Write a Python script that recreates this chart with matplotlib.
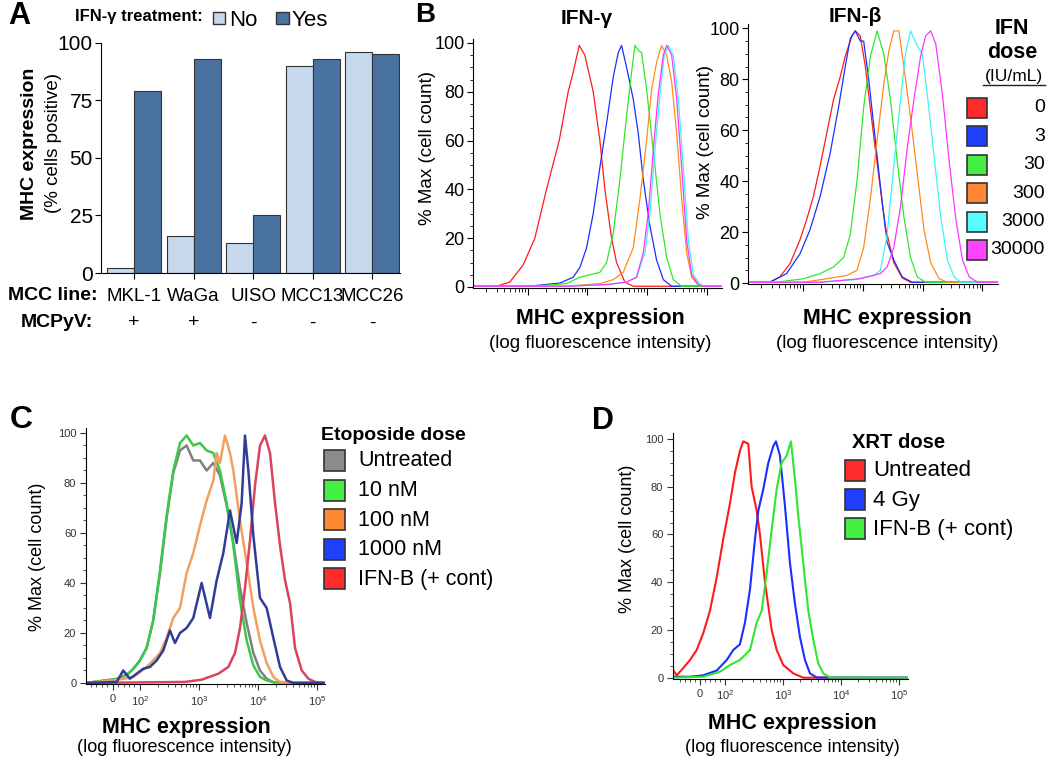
import numpy as np
import matplotlib
matplotlib.use("Agg")
import matplotlib.pyplot as plt
from matplotlib.patches import Rectangle
from matplotlib.lines import Line2D
from matplotlib.ticker import MultipleLocator, NullFormatter, FixedLocator

plt.rcParams['font.family'] = ['Liberation Sans', 'DejaVu Sans']
plt.rcParams['mathtext.fontset'] = 'custom'
plt.rcParams['mathtext.rm'] = 'Liberation Sans'

W, H = 1050, 763

# ---------------- Panel A: % MHC positive cells
mcc_lines = ["MKL-1", "WaGa", "UISO", "MCC13", "MCC26"]
mcpyv = ["+", "+", "-", "-", "-"]
mhc_no = [2, 16, 13, 90, 96]
mhc_yes = [79, 93, 25, 93, 95]

# ---------------- Panel B: histograms, x = log10 fluorescence, y = % max
ifn_doses = ["0", "3", "30", "300", "3000", "30000"]
ifn_line_colors = ["#ff1a1a", "#1a2eff", "#2ee82e", "#ff8c1a", "#3cf5f5", "#ff33ff"]
ifn_box_colors = ["#ff2a2a", "#1f3fff", "#44ee44", "#ff8833", "#55ffff", "#ff44ff"]

ifng_x = {
    "0": [0.10, 0.473, 0.697, 0.922, 1.118, 1.314, 1.527, 1.678, 1.762, 1.863, 1.958, 2.098,
          2.210, 2.294, 2.406, 2.490, 2.630, 2.770, 4.25],
    "3": [0.10, 1.090, 1.538, 1.762, 1.874, 1.986, 2.098, 2.210, 2.322, 2.434, 2.518, 2.574,
          2.658, 2.770, 2.854, 2.938, 3.050, 3.162, 3.275, 3.415, 4.25],
    "30": [0.10, 1.090, 1.650, 1.874, 2.042, 2.210, 2.322, 2.434, 2.546, 2.658, 2.742, 2.798,
           2.854, 2.910, 2.994, 3.106, 3.218, 3.331, 3.443, 3.583, 4.25],
    "300": [0.10, 1.650, 2.210, 2.434, 2.602, 2.770, 2.882, 2.994, 3.078, 3.162, 3.246, 3.331,
            3.415, 3.499, 3.583, 3.667, 3.751, 3.863, 3.947, 4.25],
    "3000": [0.10, 1.650, 2.322, 2.658, 2.826, 2.966, 3.050, 3.134, 3.218, 3.291, 3.359, 3.443,
             3.527, 3.611, 3.695, 3.779, 3.891, 3.975, 4.25],
    "30000": [0.10, 1.650, 2.322, 2.658, 2.826, 2.938, 3.022, 3.106, 3.190, 3.275, 3.331, 3.415,
              3.499, 3.583, 3.667, 3.751, 3.863, 3.947, 4.25],
}
ifng_y = {
    "0": [0.3, 0.3, 2, 9, 20, 40, 60, 80, 88, 99, 95, 80, 60, 40, 20, 10, 2, 0.3, 0.3],
    "3": [0.3, 0.5, 1.6, 4, 8, 16, 30, 49, 67, 86, 96, 99, 90, 77, 63, 44, 25, 11, 3, 0.3, 0.3],
    "30": [0.3, 0.3, 1.4, 4, 5, 6, 10, 22, 44, 70, 88, 99, 97, 96, 81, 56, 30, 12, 3, 0.3, 0.3],
    "300": [0.3, 0.3, 1.4, 3, 6, 16, 36, 60, 81, 92, 99, 95, 84, 63, 36, 14, 4, 0.7, 0.3, 0.3],
    "3000": [0.3, 0.3, 1, 2, 4, 14, 30, 56, 79, 95, 99, 95, 77, 49, 19, 5, 1, 0.3, 0.3],
    "30000": [0.3, 0.3, 1, 2, 4, 14, 30, 56, 79, 95, 99, 95, 77, 49, 19, 5, 1, 0.3, 0.3],
}

ifnb_x = {
    "0": [0.10, 0.445, 0.613, 0.782, 0.950, 1.062, 1.174, 1.286, 1.398, 1.510, 1.622, 1.706,
          1.818, 1.874, 1.958, 2.042, 2.154, 2.266, 2.378, 2.518, 2.658, 2.798, 4.25],
    "3": [0.10, 0.445, 0.725, 0.950, 1.118, 1.286, 1.454, 1.594, 1.706, 1.790, 1.874, 1.958,
          2.014, 2.098, 2.210, 2.322, 2.406, 2.518, 2.658, 2.826, 4.25],
    "30": [0.10, 0.557, 1.006, 1.286, 1.510, 1.678, 1.790, 1.902, 2.014, 2.126, 2.238, 2.350,
           2.462, 2.574, 2.686, 2.798, 2.910, 3.050, 4.25],
    "300": [0.10, 1.006, 1.398, 1.734, 1.902, 2.014, 2.126, 2.238, 2.350, 2.434, 2.518, 2.602,
            2.686, 2.798, 2.910, 3.022, 3.134, 3.275, 3.415, 4.25],
    "3000": [0.10, 1.286, 1.846, 2.182, 2.294, 2.406, 2.518, 2.630, 2.714, 2.798, 2.910, 2.994,
             3.078, 3.190, 3.303, 3.415, 3.527, 3.639, 4.25],
    "30000": [0.10, 1.286, 1.958, 2.294, 2.406, 2.518, 2.630, 2.742, 2.854, 2.966, 3.050, 3.134,
              3.218, 3.331, 3.443, 3.555, 3.667, 3.779, 3.919, 4.25],
}
ifnb_y = {
    "0": [0.3, 0.4, 2.4, 7.6, 17, 25, 34, 46, 59, 72, 81, 89, 97, 99, 97, 85, 63, 42, 22, 8, 2,
          0.3, 0.3],
    "3": [0.3, 0.3, 3.7, 11.5, 21, 34, 51, 69, 85, 96, 99, 95, 95, 80, 56, 32, 16, 9, 2.4, 0.3, 0.3],
    "30": [0.3, 0.3, 1.7, 3.7, 6.3, 10, 19, 40, 69, 89, 99, 90, 72, 48, 26, 10, 2.4, 0.3, 0.3],
    "300": [0.3, 0.3, 1.7, 3, 5, 14, 33, 56, 78, 91, 99, 99, 85, 65, 43, 21, 8, 1.7, 0.3, 0.3],
    "3000": [0.3, 0.3, 1.3, 3, 5, 19, 46, 72, 90, 99, 93, 90, 74, 50, 26, 9, 2.4, 0.3, 0.3],
    "30000": [0.3, 0.3, 1.7, 3.7, 6.3, 14, 30, 53, 72, 89, 97, 99, 94, 74, 48, 25, 9, 2.4, 0.3, 0.3],
}

# ---------------- Panel C: etoposide, x = fluorescence intensity, y = % max
etop_labels = ["Untreated", "10 nM", "100 nM", "1000 nM", "IFN-B (+ cont)"]
etop_line_colors = ["#808080", "#3cc84a", "#f2a060", "#303c98", "#d8445e"]
etop_box_colors = ["#8c8c8c", "#44f044", "#ff8833", "#1f3fff", "#ff2a2a"]

etop_x = {
    "Untreated": [-95, 21, 57, 76, 100, 130, 168, 219, 284, 368, 478, 620, 804, 1044, 1355, 1758,
                  2281, 2960, 3843, 4986, 6470, 8395, 10890, 14130, 18350, 130000],
    "10 nM": [-95, 21, 57, 76, 100, 130, 168, 219, 284, 368, 478, 620, 804, 1044, 1355, 1758,
              2281, 2960, 3843, 4986, 6470, 8395, 10890, 14130, 18350, 130000],
    "100 nM": [-95, -28, 21, 76, 130, 168, 219, 284, 368, 478, 620, 804, 1044, 1355, 1758, 2003,
               2281, 2775, 3373, 3843, 4986, 6470, 8395, 10890, 14130, 18350, 23810, 130000],
    "1000 nM": [-95, 15, 39, 63, 88, 114, 148, 192, 249, 323, 393, 478, 620, 804, 1114, 1543, 2003,
                2600, 3373, 4376, 5320, 6060, 6910, 8400, 10890, 14130, 18350, 23810, 30900, 40100,
                130000],
    "IFN-B (+ cont)": [-95, 581, 1114, 2138, 3160, 4100, 4990, 6060, 7370, 8960, 10900, 13250,
                       16100, 19600, 23800, 29000, 35200, 42800, 55600, 72100, 93500, 130000],
}
etop_y = {
    "Untreated": [0, 1.7, 3.7, 5.7, 9, 14, 25, 44, 66, 84, 93, 95, 89, 89, 85, 88, 83, 71, 56, 38,
                  24, 12, 5, 1.7, 0.3, 0],
    "10 nM": [0, 1.7, 3.7, 5.7, 9, 14, 25, 45, 67, 85, 96, 99, 95, 96, 93, 92, 85, 72, 55, 33, 17,
              7, 2.4, 1, 0.3, 0],
    "100 nM": [0, 0.7, 1.3, 2.4, 6.4, 9, 12, 18, 26, 30, 44, 52, 63, 73, 81, 92, 88, 99, 92, 85,
               65, 48, 30, 17, 8, 2.4, 0.4, 0],
    "1000 nM": [0, 0.4, 5, 1.7, 3.7, 5.7, 6.4, 9, 13, 21, 16, 20, 22, 26, 40, 26, 41, 52, 69, 56,
                72, 99, 85, 59, 34, 30, 18, 6.4, 1, 0, 0],
    "IFN-B (+ cont)": [0, 0.4, 1.3, 3.7, 6.4, 12, 22, 38, 57, 79, 95, 99, 92, 72, 55, 41, 32, 14,
                       5, 1.7, 0.4, 0],
}

# ---------------- Panel D: radiation
xrt_labels = ["Untreated", "4 Gy", "IFN-B (+ cont)"]
xrt_line_colors = ["#ff1a1a", "#1a2eff", "#2ee82e"]
xrt_box_colors = ["#ff2a2a", "#1f3fff", "#44f044"]

xrt_x = {
    "Untreated": [-113, -93, -67, -40, -13, 13, 40, 67, 93, 122, 149, 181, 207, 252, 288, 352, 401,
                  489, 639, 779, 1012, 1509, 2239, 150000],
    "4 Gy": [-113, -40, 13, 67, 107, 139, 181, 221, 270, 329, 376, 458, 559, 681, 757, 887, 1082,
             1320, 1610, 1964, 2395, 2922, 3810, 150000],
    "IFN-B (+ cont)": [-113, 13, 80, 122, 181, 270, 352, 429, 524, 639, 779, 949, 1158, 1374, 1610,
                       1816, 2239, 2730, 3330, 4060, 4950, 6460, 150000],
}
xrt_y = {
    "Untreated": [4, 1, 4, 7.4, 11.6, 18.6, 28, 42, 58, 73, 86, 95, 99, 98, 80, 70, 60, 40, 20,
                  11.6, 5.3, 1.8, 0, 0],
    "4 Gy": [0.4, 0.4, 1, 3, 7.4, 11.6, 14, 23, 37, 58, 70, 79, 90, 97, 99, 93, 72, 48, 31, 17,
             7.4, 1.8, 0.1, 0],
    "IFN-B (+ cont)": [0, 0.4, 2.5, 5.3, 7.4, 11.6, 23, 28, 44, 62, 79, 90, 93, 99, 83, 69, 48, 28,
                       16, 6, 1.8, 0.1, 0],
}

fig = plt.figure(figsize=(W / 100, H / 100), dpi=100)


def box(l, t, r, b):
    # pixel box -> figure fraction
    return [l / W, 1 - b / H, (r - l) / W, (b - t) / H]


def label(x, y, s, **kw):
    kw.setdefault('ha', 'center')
    kw.setdefault('va', 'center')
    fig.text(x / W, 1 - y / H, s, **kw)


def swatch(l, t, r, b, color, lw=1.2):
    fig.add_artist(Rectangle((l / W, 1 - b / H), (r - l) / W, (b - t) / H,
                             transform=fig.transFigure, fc=color, ec='#333333', lw=lw))


def clean(ax):
    for s in ['top', 'right']:
        ax.spines[s].set_visible(False)


# ================= A
axA = fig.add_axes(box(101, 42.7, 400, 273))
xa = np.arange(len(mcc_lines))
bw = 0.454
axA.bar(xa - bw, mhc_no, bw, align='edge', color='#c6d8eb', edgecolor='#333333', lw=0.8)
axA.bar(xa, mhc_yes, bw, align='edge', color='#4a72a0', edgecolor='#333333', lw=0.8)
axA.set_xlim(-0.555, 4.47)
axA.set_ylim(0, 100)
axA.set_yticks([0, 25, 50, 75, 100])
axA.tick_params(axis='y', labelsize=15, length=4, pad=2)
axA.set_xticks(xa)
axA.set_xticklabels([])
axA.tick_params(axis='x', length=4)
clean(axA)
for i, (name, v) in enumerate(zip(mcc_lines, mcpyv)):
    axA.text(i, -0.104, name, transform=axA.get_xaxis_transform(), ha='center', va='center',
             fontsize=13.5)
    axA.text(i, -0.217, v, transform=axA.get_xaxis_transform(), ha='center', va='center',
             fontsize=14)
label(98, 296, 'MCC line:', ha='right', fontweight='bold', fontsize=14)
label(93, 323, 'MCPyV:', ha='right', fontweight='bold', fontsize=14)
label(30, 144, 'MHC expression', rotation=90, fontweight='bold', fontsize=14)
label(53, 143, '(% cells positive)', rotation=90, fontsize=13.5)
label(75, 17, 'IFN-γ treatment:', ha='left', fontweight='bold', fontsize=12)
swatch(213, 12, 225, 24, '#c6d8eb', lw=1)
label(229, 20, 'No', ha='left', fontsize=16)
swatch(276, 12, 289, 24, '#4a72a0', lw=1)
label(292, 20, 'Yes', ha='left', fontsize=16)
label(8, 16, 'A', ha='left', fontweight='bold', fontsize=22)

# ================= B
def flow_log_axes(rect, xs, ys):
    ax = fig.add_axes(rect)
    for dose, c in zip(ifn_doses, ifn_line_colors):
        ax.plot(10 ** np.array(xs[dose]), ys[dose], color=c, lw=0.9)
    ax.set_xscale('log')
    ax.set_xlim(10 ** 0.08, 10 ** 4.26)
    ax.set_ylim(-0.5, 101.5)
    ax.xaxis.set_major_formatter(NullFormatter())
    ax.xaxis.set_minor_formatter(NullFormatter())
    ax.set_yticks([0, 20, 40, 60, 80, 100])
    ax.yaxis.set_minor_locator(MultipleLocator(5))
    ax.tick_params(axis='y', which='major', labelsize=13, length=4, pad=2)
    ax.tick_params(axis='y', which='minor', length=2)
    ax.tick_params(axis='x', which='major', length=5)
    ax.tick_params(axis='x', which='minor', length=3)
    clean(ax)
    return ax


axBg = flow_log_axes(box(473, 39.3, 722, 288.2), ifng_x, ifng_y)
axBb = flow_log_axes(box(748, 24.5, 998, 284.3), ifnb_x, ifnb_y)

label(415, 15, 'B', ha='left', fontweight='bold', fontsize=20)
label(587, 18, 'IFN-γ', fontweight='bold', fontsize=15)
label(855, 17, 'IFN-β', fontweight='bold', fontsize=15)
label(427, 148, '% Max (cell count)', rotation=90, fontsize=13.5)
label(705, 142, '% Max (cell count)', rotation=90, fontsize=13.5)
for cx in (600, 887):
    label(cx, 318, 'MHC expression', fontweight='bold', fontsize=15.5)
    label(cx, 343, '(log fluorescence intensity)', fontsize=13.5)

label(1012, 28, 'IFN', fontweight='bold', fontsize=15.5)
label(1012, 52, 'dose', fontweight='bold', fontsize=15.5)
label(1014, 76, '(IU/mL)', fontsize=12.5)
fig.add_artist(Line2D([983 / W, 1045 / W], [1 - 85 / H, 1 - 85 / H],
                      transform=fig.transFigure, color='#222222', lw=1))
for i, (dose, c) in enumerate(zip(ifn_doses, ifn_box_colors)):
    t = 98 + 28.4 * i
    swatch(967, t, 987, t + 20, c)
    label(1045, t + 10, dose, ha='right', fontsize=14)


# ================= C and D
def flow_symlog_axes(rect, linscale, xlim, labels, colors, xs, ys, order, lw):
    ax = fig.add_axes(rect)
    for k in order:
        ax.plot(xs[labels[k]], ys[labels[k]], color=colors[k], lw=lw)
    ax.set_xscale('symlog', linthresh=100, linscale=linscale)
    ax.set_xlim(*xlim)
    ax.set_ylim(-0.5, 102)
    ax.xaxis.set_major_locator(FixedLocator([0, 1e2, 1e3, 1e4, 1e5]))
    ax.set_xticklabels(['0', r'$\mathregular{10^{2}}$', r'$\mathregular{10^{3}}$',
                        r'$\mathregular{10^{4}}$', r'$\mathregular{10^{5}}$'])
    minors = [v for v in (-80, -60, -40, -20, 20, 40, 60, 80)]
    minors += [m * 10 ** k for k in (2, 3, 4) for m in range(2, 10)]
    ax.xaxis.set_minor_locator(FixedLocator([v for v in minors if xlim[0] < v < xlim[1]]))
    ax.set_yticks([0, 20, 40, 60, 80, 100])
    ax.yaxis.set_minor_locator(MultipleLocator(5))
    ax.tick_params(axis='both', which='major', labelsize=8, length=4, pad=3, colors='#333333')
    ax.tick_params(axis='both', which='minor', length=2, colors='#333333')
    clean(ax)
    return ax


axC = flow_symlog_axes(box(86, 428, 325, 684.2), 0.418, (-97, 1.38e5), etop_labels,
                       etop_line_colors, etop_x, etop_y, [0, 1, 2, 4, 3], 1.8)
label(10, 420, 'C', ha='left', fontweight='bold', fontsize=23)
label(38, 557, '% Max (cell count)', rotation=90, fontsize=13)
label(186, 728, 'MHC expression', fontweight='bold', fontsize=15.5)
label(184, 748, '(log fluorescence intensity)', fontsize=13)
label(321, 436, 'Etoposide dose', ha='left', fontweight='bold', fontsize=14)
for i, (name, c) in enumerate(zip(etop_labels, etop_box_colors)):
    t = 450 + 29.6 * i
    swatch(324, t, 345, t + 21, c)
    label(358, t + 11, name, ha='left', fontsize=15.5)

axD = flow_symlog_axes(box(673, 433, 908, 678.9), 0.388, (-108, 1.43e5), xrt_labels,
                       xrt_line_colors, xrt_x, xrt_y, [0, 1, 2], 1.5)
axD.set_ylim(-0.5, 102.5)
label(592, 421, 'D', ha='left', fontweight='bold', fontsize=22)
label(627, 539, '% Max (cell count)', rotation=90, fontsize=13)
label(792, 723, 'MHC expression', fontweight='bold', fontsize=15.5)
label(792, 747, '(log fluorescence intensity)', fontsize=13)
label(852, 443, 'XRT dose', ha='left', fontweight='bold', fontsize=14.5)
for i, (name, c) in enumerate(zip(xrt_labels, xrt_box_colors)):
    t = 460 + 29 * i
    swatch(845, t, 865, t + 21, c)
    label(873, t + 11, name, ha='left', fontsize=16)

fig.savefig('out.png', dpi=100)
